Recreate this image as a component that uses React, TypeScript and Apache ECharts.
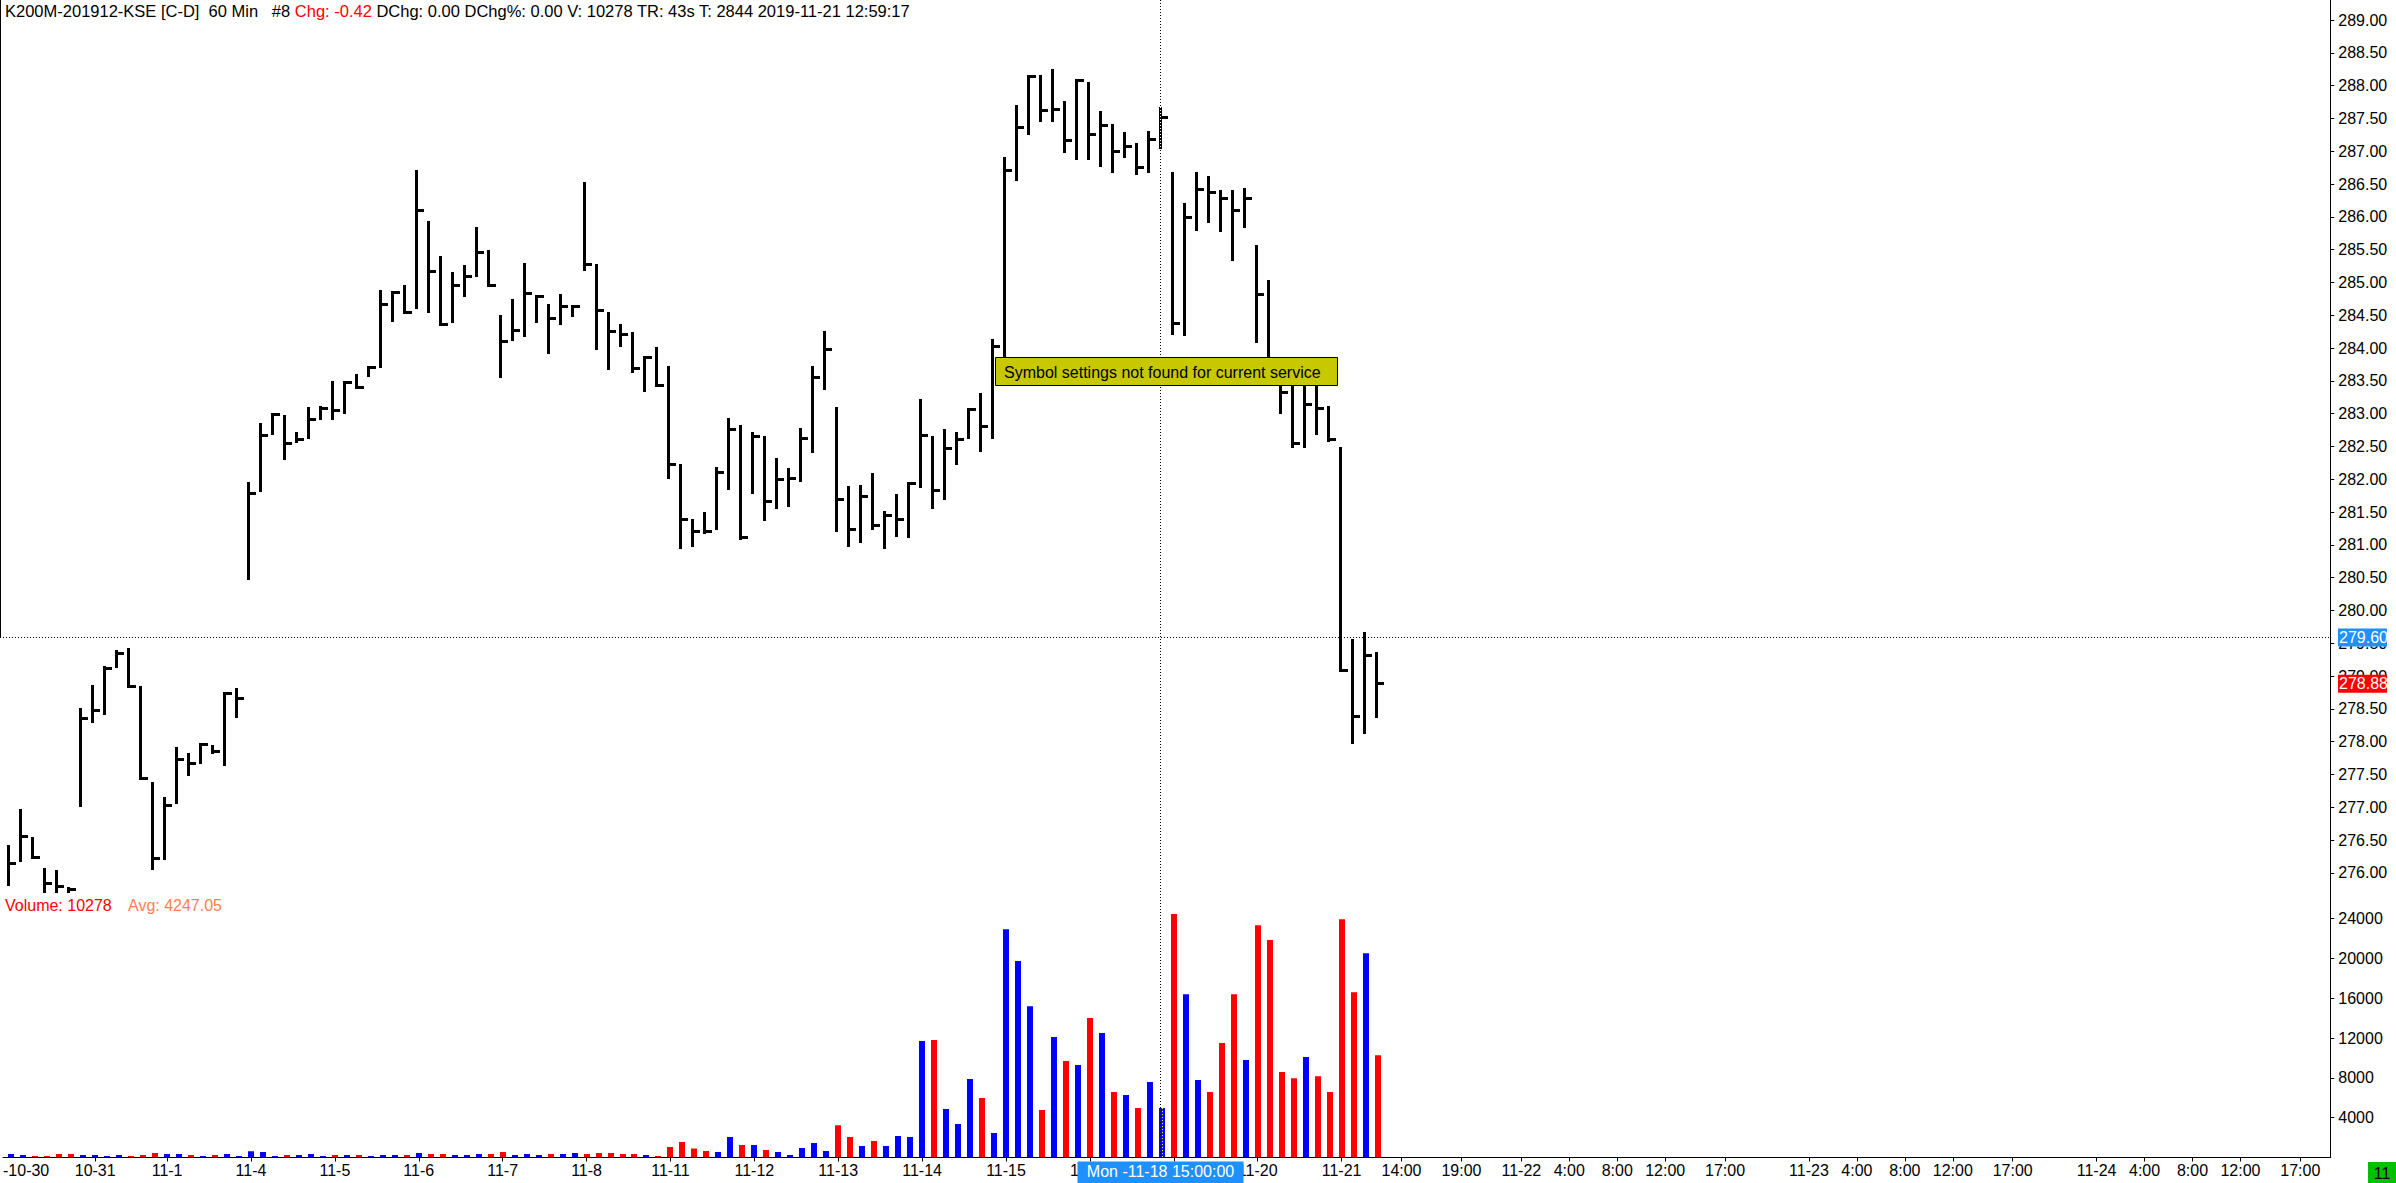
import React, { useEffect, useRef } from "react";
import * as echarts from "echarts";

// ---- data (60 min HLC bars, K200M-201912) ----
const highs = [
  276.42, 276.98, 276.55, 276.08, 276.04, 275.79, 278.51, 278.86, 279.16, 279.39,
  279.42, 278.85, 277.39, 277.16, 277.92, 277.83, 277.98, 277.95, 278.76, 278.81,
  281.96, 282.86, 283.01, 282.98, 282.72, 283.10, 283.12, 283.50, 283.50, 283.60,
  283.73, 284.88, 284.87, 284.96, 286.72, 285.93, 285.40, 285.16, 285.27, 285.84,
  285.50, 284.50, 284.74, 285.29, 284.81, 284.67, 284.83, 284.65, 286.53, 285.28,
  284.55, 284.37, 284.25, 283.88, 284.01, 283.72, 282.23, 281.39, 281.50, 282.19,
  282.93, 282.83, 282.72, 282.66, 282.32, 282.17, 282.78, 283.73, 284.26, 283.10,
  281.89, 281.91, 282.09, 281.51, 281.77, 281.96, 283.22, 282.66, 282.77, 282.72,
  283.08, 283.31, 284.13, 286.91, 287.70, 288.16, 288.16, 288.25, 287.77, 288.10,
  288.05, 287.61, 287.42, 287.30, 287.13, 287.31, 287.68, 286.69, 286.21, 286.68,
  286.62, 286.41, 286.41, 286.44, 285.57, 285.03, 283.60, 283.60, 283.60, 283.60,
  283.11, 282.49, 279.57, 279.67, 279.36,
];
const lows = [
  275.80, 276.16, 276.21, 275.68, 275.68, 275.68, 277.00, 278.29, 278.40, 279.12,
  278.81, 277.42, 276.05, 276.20, 277.05, 277.47, 277.66, 277.81, 277.63, 278.36,
  280.46, 281.81, 282.67, 282.30, 282.55, 282.61, 282.91, 282.91, 283.00, 283.37,
  283.56, 283.69, 284.39, 284.52, 284.59, 284.53, 284.33, 284.38, 284.77, 285.08,
  284.93, 283.55, 284.11, 284.17, 284.38, 283.91, 284.35, 284.48, 285.18, 283.97,
  283.67, 284.02, 283.62, 283.33, 283.40, 282.01, 280.93, 280.96, 281.17, 281.22,
  281.84, 281.08, 281.77, 281.37, 281.54, 281.58, 281.96, 282.40, 283.36, 281.19,
  280.97, 281.02, 281.23, 280.93, 281.12, 281.10, 281.86, 281.54, 281.69, 282.22,
  282.61, 282.42, 282.62, 283.85, 286.55, 287.24, 287.44, 287.45, 286.98, 286.86,
  286.86, 286.76, 286.67, 286.89, 286.64, 286.67, 287.04, 284.20, 284.18, 285.79,
  285.91, 285.77, 285.33, 285.83, 284.07, 283.55, 283.00, 282.47, 282.47, 282.67,
  282.57, 279.06, 277.96, 278.12, 278.36,
];
const closes = [
  276.14, 276.56, 276.24, 275.83, 275.79, 275.74, 278.35, 278.47, 279.12, 279.35,
  278.84, 277.44, 276.22, 277.02, 277.73, 277.67, 277.96, 277.85, 278.73, 278.66,
  281.78, 282.67, 282.99, 282.55, 282.61, 282.91, 283.08, 283.04, 283.47, 283.40,
  283.71, 284.66, 284.84, 284.54, 286.09, 285.16, 284.35, 284.96, 285.09, 285.45,
  284.94, 284.10, 284.26, 284.83, 284.78, 284.45, 284.63, 284.63, 285.27, 284.57,
  284.25, 284.21, 283.69, 283.87, 283.42, 282.23, 281.38, 281.21, 281.20, 282.10,
  282.76, 281.11, 282.65, 281.66, 281.99, 282.01, 282.62, 283.55, 283.98, 281.69,
  281.23, 281.73, 281.30, 281.44, 281.38, 281.95, 282.67, 281.83, 282.47, 282.60,
  283.06, 282.80, 284.03, 286.70, 287.36, 288.14, 287.62, 287.63, 287.16, 288.08,
  287.26, 287.39, 286.99, 287.07, 286.75, 287.18, 287.52, 284.38, 285.99, 286.41,
  286.37, 286.28, 286.10, 286.28, 284.82, 283.75, 283.32, 282.55, 283.14, 283.08,
  282.60, 279.08, 278.39, 279.32, 278.88,
];
const volumes = [
  340, 240, 140, 140, 340, 340, 240, 240, 140, 240,
  140, 240, 440, 340, 340, 240, 140, 240, 340, 140,
  640, 540, 140, 240, 240, 340, 140, 240, 240, 240,
  140, 240, 240, 240, 440, 340, 340, 240, 240, 340,
  340, 540, 240, 340, 240, 340, 340, 440, 340, 450,
  450, 340, 340, 240, 140, 1050, 1550, 900, 650, 550,
  2050, 1250, 1250, 750, 550, 240, 950, 1450, 650, 3250,
  2050, 1150, 1650, 1150, 2150, 2050, 11690, 11790, 4860, 3360,
  7880, 5970, 2460, 22930, 19720, 15200, 4760, 12090, 9680, 9280,
  14000, 12490, 6570, 6270, 4960, 7570, 4960, 24440, 16400, 7780,
  6570, 11490, 16400, 9780, 23330, 21830, 8575, 7970, 10080, 8170,
  6570, 23930, 16600, 20520, 10278,
];
// 1 = up bar (blue volume), 0 = down bar (red volume)
const volUp = [
  1, 1, 0, 0, 0, 0, 1, 1, 1, 1,
  0, 0, 0, 1, 1, 0, 1, 0, 1, 1,
  1, 1, 1, 0, 1, 1, 1, 0, 1, 0,
  1, 1, 1, 0, 1, 0, 0, 1, 1, 1,
  0, 0, 1, 1, 1, 0, 1, 1, 0, 0,
  0, 0, 0, 1, 0, 0, 0, 0, 0, 1,
  1, 0, 1, 0, 1, 1, 1, 1, 1, 0,
  0, 1, 0, 1, 1, 1, 1, 0, 1, 1,
  1, 0, 1, 1, 1, 1, 0, 1, 0, 1,
  0, 1, 0, 1, 0, 1, 1, 0, 1, 1,
  0, 0, 0, 1, 0, 0, 0, 0, 1, 0,
  0, 0, 0, 1, 0,
];
// x axis: slot index -> label (7 hourly slots per session, then hourly calendar slots)
const xLabelIdx = [
  0, 7, 13, 20, 27, 34, 41, 48, 55, 62, 69, 76, 83, 90, 97, 104, 111,
  116, 121, 126, 130, 134, 138, 143, 150, 154, 158, 162, 167, 174, 178, 182, 186, 191,
];
const xLabelText = [
  "-10-30", "10-31", "11-1", "11-4", "11-5", "11-6", "11-7", "11-8", "11-11", "11-12",
  "11-13", "11-14", "11-15", "11-18", "11-19", "11-20", "11-21",
  "14:00", "19:00", "11-22", "4:00", "8:00", "12:00", "17:00",
  "11-23", "4:00", "8:00", "12:00", "17:00",
  "11-24", "4:00", "8:00", "12:00", "17:00",
];
const priceTicks = [
  276, 276.5, 277, 277.5, 278, 278.5, 279, 279.5, 280, 280.5, 281, 281.5, 282, 282.5,
  283, 283.5, 284, 284.5, 285, 285.5, 286, 286.5, 287, 287.5, 288, 288.5, 289,
];
const volTicks = [4000, 8000, 12000, 16000, 20000, 24000];

const crossIdx = 96;
const crossPrice = 279.6;
const crossLabel = "Mon -11-18 15:00:00";
const headerMain = "K200M-201912-KSE [C-D]  60 Min   #8 ";
const headerChg = "Chg: -0.42";
const headerRest = " DChg: 0.00 DChg%: 0.00 V: 10278 TR: 43s T: 2844 2019-11-21 12:59:17";
const volText = "Volume: 10278";
const avgText = "Avg: 4247.05";
const noticeText = "Symbol settings not found for current service";

const FONT = "'Liberation Sans', Arial, sans-serif";

export default function App() {
  const ref = useRef<HTMLDivElement>(null);

  useEffect(() => {
    const el = ref.current;
    if (!el) return;
    const chart = echarts.init(el, null, { renderer: "svg" });

    const W = 2396;
    const plotRight = 2330.3;
    const slotW = 12;
    const firstSlotX = 8.3;
    const xMin = -firstSlotX / slotW;
    const xMax = (plotRight - firstSlotX) / slotW;
    const priceTop = 0;
    const priceH = 893;
    const pxPerPt = 65.6;
    const y289 = 20;
    const priceMax = 289 + (y289 - priceTop) / pxPerPt;
    const priceMin = 289 - (priceH - y289) / pxPerPt;
    const volTop = 893;
    const volH = 264.5;
    const volMax = (volH / 239) * 24000;

    const xLabelVals = xLabelIdx.map((v, i) => (i === 0 ? xMin : v));
    const xTickVals = xLabelIdx.slice(1);

    const priceData = highs.map((h, i) => [i, h, lows[i], closes[i]]);
    const volData = volumes.map((v, i) => [i, v, volUp[i]]);

    const labelFmt = (v: number) => {
      let best = 0;
      let bd = Infinity;
      xLabelVals.forEach((lv, k) => {
        const d = Math.abs(lv - v);
        if (d < bd) {
          bd = d;
          best = k;
        }
      });
      return xLabelText[best];
    };

    const yAxisCommon = {
      position: "right",
      splitLine: { show: false },
      axisLine: { show: true, onZero: false, lineStyle: { color: "#000", width: 1 } },
    };

    chart.setOption({
      animation: false,
      backgroundColor: "#ffffff",
      grid: [
        { left: 0, right: W - plotRight, top: priceTop, height: priceH },
        { left: 0, right: W - plotRight, top: volTop, height: volH },
      ],
      xAxis: [
        {
          type: "value",
          gridIndex: 0,
          min: xMin,
          max: xMax,
          show: false,
        },
        {
          type: "value",
          gridIndex: 1,
          min: xMin,
          max: xMax,
          splitLine: { show: false },
          axisLine: { show: true, onZero: false, lineStyle: { color: "#000", width: 1 } },
          axisTick: {
            show: true,
            customValues: xTickVals,
            length: 4,
            lineStyle: { color: "#000" },
          },
          axisLabel: {
            customValues: xLabelVals,
            formatter: labelFmt,
            fontSize: 16,
            fontFamily: FONT,
            color: "#000",
            margin: 5,
            alignMinLabel: "left",
            hideOverlap: false,
          },
        },
      ],
      yAxis: [
        {
          ...yAxisCommon,
          type: "value",
          gridIndex: 0,
          min: priceMin,
          max: priceMax,
          axisTick: { show: true, length: 4, customValues: priceTicks, lineStyle: { color: "#000" } },
          axisLabel: {
            customValues: priceTicks,
            formatter: (v: number) => v.toFixed(2),
            fontSize: 16,
            fontFamily: FONT,
            color: "#000",
            margin: 8,
          },
        },
        {
          ...yAxisCommon,
          type: "value",
          gridIndex: 1,
          min: 0,
          max: volMax,
          axisTick: { show: true, length: 4, customValues: volTicks, lineStyle: { color: "#000" } },
          axisLabel: {
            customValues: volTicks,
            formatter: (v: number) => String(v),
            fontSize: 16,
            fontFamily: FONT,
            color: "#000",
            margin: 8,
          },
        },
      ],
      series: [
        {
          type: "custom",
          name: "price",
          xAxisIndex: 0,
          yAxisIndex: 0,
          clip: true,
          encode: { x: 0, y: [1, 2, 3] },
          data: priceData,
          renderItem: (params: any, api: any) => {
            const i = api.value(0);
            const top = api.coord([i, api.value(1)]);
            const bot = api.coord([i, api.value(2)]);
            const cl = api.coord([i, api.value(3)]);
            const left = Math.round(top[0] - 1.5);
            const y0 = Math.round(top[1]);
            const y1 = Math.max(Math.round(bot[1]), y0 + 3);
            let ty = Math.round(cl[1] - 1.5);
            ty = Math.min(Math.max(ty, y0), y1 - 3);
            const children: any[] = [
              { type: "rect", shape: { x: left, y: y0, width: 3, height: y1 - y0 }, style: { fill: "#000" } },
              { type: "rect", shape: { x: left + 3, y: ty, width: 6, height: 3 }, style: { fill: "#000" } },
            ];
            if (i === crossIdx) {
              children.push({
                type: "line",
                shape: { x1: left + 1.5, y1: y0, x2: left + 1.5, y2: y1 },
                style: { stroke: "#fff", lineWidth: 1, lineDash: [1, 2] },
              });
            }
            return { type: "group", children };
          },
        },
        {
          type: "custom",
          name: "volume",
          xAxisIndex: 1,
          yAxisIndex: 1,
          clip: true,
          encode: { x: 0, y: 1 },
          data: volData,
          renderItem: (params: any, api: any) => {
            const i = api.value(0);
            const p = api.coord([i, api.value(1)]);
            const b = api.coord([i, 0]);
            const left = Math.round(p[0] - 3);
            const children: any[] = [
              {
                type: "rect",
                shape: { x: left, y: p[1], width: 6, height: b[1] - p[1] },
                style: { fill: api.value(2) ? "#0000ff" : "#ff0000" },
              },
            ];
            if (i === crossIdx) {
              children.push({
                type: "line",
                shape: { x1: left + 3.5, y1: p[1], x2: left + 3.5, y2: b[1] },
                style: { stroke: "#ffff00", lineWidth: 1, lineDash: [1, 2] },
              });
            }
            return { type: "group", children };
          },
        },
      ],
    });

    const cx = Math.round(chart.convertToPixel({ xAxisIndex: 0 }, crossIdx) as number) + 0.5;
    const cy = Math.round(chart.convertToPixel({ yAxisIndex: 0 }, crossPrice) as number) + 0.5;
    const lastClose = closes[closes.length - 1];
    const ly = chart.convertToPixel({ yAxisIndex: 0 }, lastClose) as number;
    const vb = chart.convertToPixel({ yAxisIndex: 1 }, 0) as number;

    const Z = 200;
    const tagRect = (y: number, fill: string) => ({
      type: "rect",
      z: Z,
      shape: { x: 2338, y: y - 9, width: 49, height: 18 },
      style: { fill },
    });
    const tagText = (y: number, text: string) => ({
      type: "text",
      z: Z + 1,
      style: { text, x: 2339, y, fill: "#fff", fontSize: 16, fontFamily: FONT, verticalAlign: "middle", align: "left" },
    });

    chart.setOption({
      graphic: [
        {
          type: "text",
          z: Z,
          style: {
            x: 5,
            y: 11,
            verticalAlign: "middle",
            text: `{k|${headerMain}}{r|${headerChg}}{k|${headerRest}}`,
            rich: {
              k: { fill: "#000", fontSize: 16.5, fontFamily: FONT },
              r: { fill: "#ff0000", fontSize: 16.5, fontFamily: FONT },
            },
          },
        },
        {
          type: "line",
          z: Z,
          shape: { x1: 0.5, y1: 0, x2: 0.5, y2: cy },
          style: { stroke: "#000", lineWidth: 1 },
        },
        {
          type: "text",
          z: Z,
          style: { x: 5, y: 905, text: volText, fill: "#ff0000", fontSize: 16, fontFamily: FONT, verticalAlign: "middle" },
        },
        {
          type: "text",
          z: Z,
          style: { x: 128, y: 905, text: avgText, fill: "#ff7f50", fontSize: 16, fontFamily: FONT, verticalAlign: "middle" },
        },
        {
          type: "line",
          z: Z - 10,
          shape: { x1: cx, y1: 0, x2: cx, y2: vb },
          style: { stroke: "#000", lineWidth: 1, lineDash: [1, 2] },
        },
        {
          type: "line",
          z: Z - 10,
          shape: { x1: 0, y1: cy, x2: plotRight, y2: cy },
          style: { stroke: "#000", lineWidth: 1, lineDash: [1, 2] },
        },
        {
          type: "rect",
          z: Z,
          shape: { x: 995.5, y: 357.5, width: 342, height: 28 },
          style: { fill: "#c8c800", stroke: "#000", lineWidth: 1 },
        },
        {
          type: "text",
          z: Z + 1,
          style: { x: 1004, y: 372, text: noticeText, fill: "#000", fontSize: 16, fontFamily: FONT, verticalAlign: "middle" },
        },
        tagRect(cy, "#1e90ff"),
        tagText(cy, crossPrice.toFixed(2)),
        tagRect(ly, "#ff0000"),
        tagText(ly, lastClose.toFixed(2)),
        {
          type: "rect",
          z: Z,
          shape: { x: cx - 83, y: vb + 4, width: 166, height: 1183 - vb - 4 },
          style: { fill: "#1e90ff" },
        },
        {
          type: "text",
          z: Z + 1,
          style: {
            x: cx,
            y: vb + 14,
            text: crossLabel,
            fill: "#fff",
            fontSize: 16,
            fontFamily: FONT,
            align: "center",
            verticalAlign: "middle",
          },
        },
        {
          type: "rect",
          z: Z,
          shape: { x: 2368, y: 1162, width: 28, height: 21 },
          style: { fill: "#00c000" },
        },
        {
          type: "text",
          z: Z + 1,
          style: { x: 2382, y: 1173, text: "11", fill: "#000", fontSize: 16, fontFamily: FONT, align: "center", verticalAlign: "middle" },
        },
      ],
    });

    return () => {
      chart.dispose();
    };
  }, []);

  return (
    <div
      ref={ref}
      style={{ position: "fixed", left: 0, top: 0, width: 2396, height: 1183, background: "#fff" }}
    />
  );
}
